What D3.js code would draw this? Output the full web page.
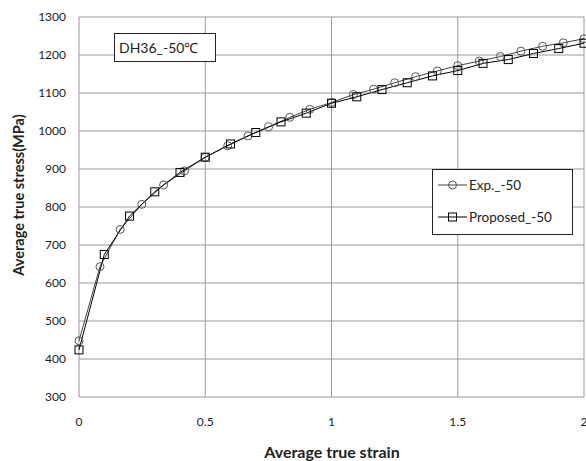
<!DOCTYPE html>
<html>
<head>
<meta charset="utf-8">
<script src="https://cdn.jsdelivr.net/npm/d3@7"></script>
<style>
  body { margin: 0; background: #fff; }
  text { font-family: Lato, "Open Sans", sans-serif; fill: #222; }
</style>
</head>
<body>
<div id="chart"></div>
<script>
// experimental curve (circles)
var expStrain = [0, 0.083, 0.163, 0.249, 0.335, 0.418, 0.5, 0.589, 0.669, 0.751, 0.835, 0.914, 1.0,
                 1.087, 1.167, 1.25, 1.333, 1.419, 1.5, 1.585, 1.669, 1.75, 1.836, 1.918, 2.0];
var expStress = [448, 643, 741, 807, 858, 895, 931, 961, 987, 1011, 1036, 1057, 1075,
                 1096, 1110, 1127, 1143, 1158, 1172, 1184, 1196, 1210, 1223, 1232, 1243];
// proposed model (squares)
var propStrain = [0, 0.1, 0.2, 0.3, 0.4, 0.5, 0.6, 0.7, 0.8, 0.9, 1.0,
                  1.1, 1.2, 1.3, 1.4, 1.5, 1.6, 1.7, 1.8, 1.9, 2.0];
var propStress = [424, 675, 776, 840, 891, 931, 966, 996, 1024, 1047, 1073,
                  1090, 1109, 1127, 1145, 1159, 1178, 1188, 1204, 1217, 1231];
var xTicks = [0, 0.5, 1, 1.5, 2];
var yTicks = [300, 400, 500, 600, 700, 800, 900, 1000, 1100, 1200, 1300];
var seriesNames = ["Exp._-50", "Proposed_-50"];
var tagText = "DH36_-50\u2103";

var W = 586, H = 461;
var m = {l: 79, r: 2, t: 17, b: 64};

var svg = d3.select("#chart").append("svg")
    .attr("width", W).attr("height", H);

var x = d3.scaleLinear().domain([0, 2]).range([m.l, W - m.r]);
var y = d3.scaleLinear().domain([300, 1300]).range([H - m.b, m.t]);

// grid
svg.append("g").selectAll("line.v").data(xTicks).enter().append("line")
    .attr("x1", d => x(d)).attr("x2", d => x(d))
    .attr("y1", y(300)).attr("y2", y(1300))
    .attr("stroke", "#999").attr("stroke-width", 1);
svg.append("g").selectAll("line.h").data(yTicks).enter().append("line")
    .attr("x1", x(0)).attr("x2", x(2))
    .attr("y1", d => y(d)).attr("y2", d => y(d))
    .attr("stroke", "#999").attr("stroke-width", 1);

// tick labels
svg.append("g").selectAll("text").data(yTicks).enter().append("text")
    .attr("x", 66).attr("y", d => y(d)).attr("dy", "0.35em")
    .attr("text-anchor", "end").attr("font-size", 12)
    .text(d => d);
svg.append("g").selectAll("text").data(xTicks).enter().append("text")
    .attr("x", d => x(d)).attr("y", 426)
    .attr("text-anchor", "middle").attr("font-size", 12)
    .text(d => d);

// axis titles
svg.append("text").attr("x", 332).attr("y", 458)
    .attr("text-anchor", "middle").attr("font-size", 16).attr("font-weight", "bold")
    .text("Average true strain");
svg.append("text").attr("transform", "translate(24,195) rotate(-90)")
    .attr("text-anchor", "middle").attr("font-size", 14.5).attr("font-weight", "bold")
    .text("Average true stress(MPa)");

var line = d3.line().x(d => x(d[0])).y(d => y(d[1]));
var expData = d3.zip(expStrain, expStress);
var propData = d3.zip(propStrain, propStress);

svg.append("path").datum(expData).attr("d", line)
    .attr("fill", "none").attr("stroke", "#444").attr("stroke-width", 1);
svg.append("path").datum(propData).attr("d", line)
    .attr("fill", "none").attr("stroke", "#000").attr("stroke-width", 1);

svg.append("g").selectAll("circle").data(expData).enter().append("circle")
    .attr("cx", d => x(d[0])).attr("cy", d => y(d[1])).attr("r", 4)
    .attr("fill", "none").attr("stroke", "#555").attr("stroke-width", 1);
svg.append("g").selectAll("rect").data(propData).enter().append("rect")
    .attr("x", d => x(d[0]) - 4).attr("y", d => y(d[1]) - 4)
    .attr("width", 8).attr("height", 8)
    .attr("fill", "none").attr("stroke", "#000").attr("stroke-width", 1);

// tag box
svg.append("rect").attr("x", 114.5).attr("y", 33.5).attr("width", 101).attr("height", 28)
    .attr("fill", "#fff").attr("stroke", "#222");
svg.append("text").attr("x", 119).attr("y", 53).attr("font-size", 14)
    .text(tagText);

// legend
var lg = svg.append("g");
lg.append("rect").attr("x", 432.5).attr("y", 169.5).attr("width", 140).attr("height", 65)
    .attr("fill", "#fff").attr("stroke", "#222");
seriesNames.forEach(function (name, i) {
    var yy = 185 + i * 32;
    lg.append("line").attr("x1", 438).attr("x2", 467).attr("y1", yy).attr("y2", yy)
        .attr("stroke", i ? "#000" : "#444");
    if (i) {
        lg.append("rect").attr("x", 448.5).attr("y", yy - 4).attr("width", 8).attr("height", 8)
            .attr("fill", "none").attr("stroke", "#000");
    } else {
        lg.append("circle").attr("cx", 452.5).attr("cy", yy).attr("r", 4)
            .attr("fill", "none").attr("stroke", "#555");
    }
    lg.append("text").attr("x", 469).attr("y", yy).attr("dy", "0.35em")
        .attr("font-size", 13.5).text(name);
});
</script>
</body>
</html>
